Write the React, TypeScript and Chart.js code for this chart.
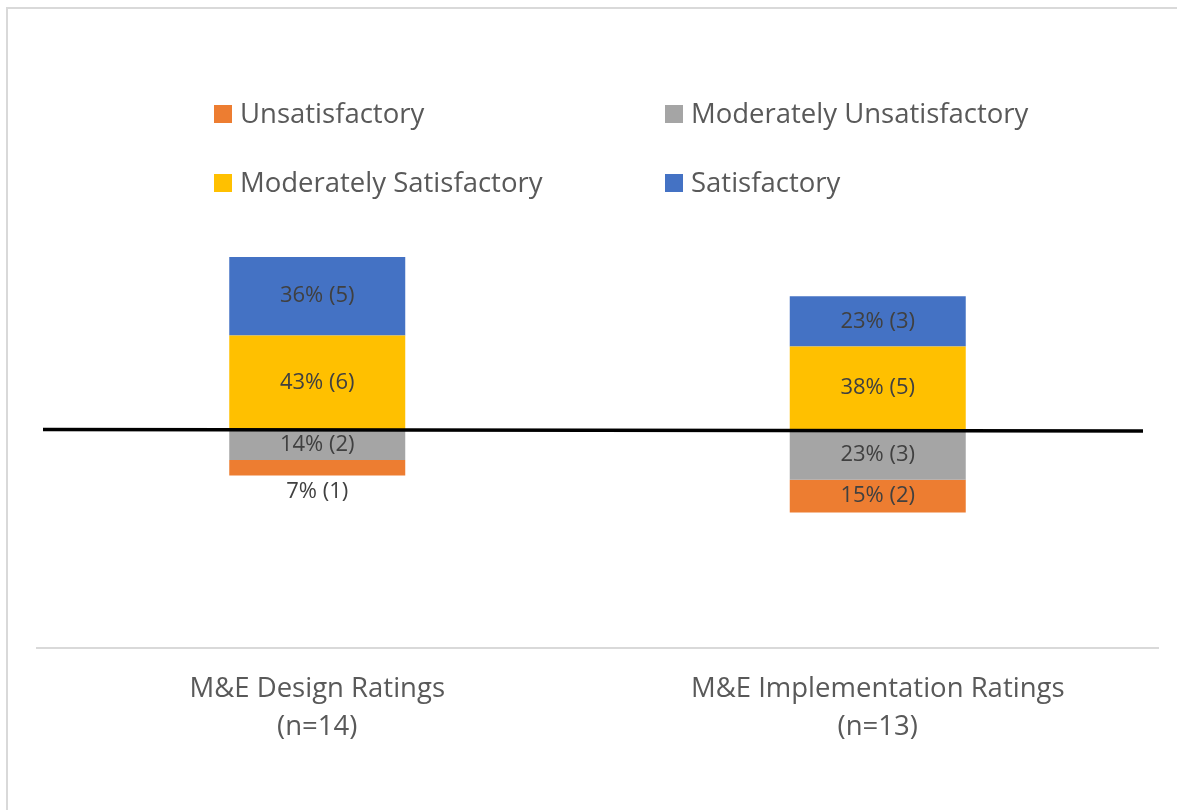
import React, { useEffect, useRef } from "react";
import { Chart, registerables } from "chart.js";

Chart.register(...registerables);

const categories: string[][] = [
  ["M&E Design Ratings", "(n=14)"],
  ["M&E Implementation Ratings", "(n=13)"],
];

// percent values (negative = below the line)
const unsatisfactory = [-7, -15];
const moderatelyUnsatisfactory = [-14, -23];
const moderatelySatisfactory = [43, 38];
const satisfactory = [36, 23];

// counts
const unsatisfactoryN = [1, 2];
const moderatelyUnsatisfactoryN = [2, 3];
const moderatelySatisfactoryN = [6, 5];
const satisfactoryN = [5, 3];

const legendOrder = ["Unsatisfactory", "Moderately Unsatisfactory", "Moderately Satisfactory", "Satisfactory"];

const FONT = "'Open Sans', 'DejaVu Sans', sans-serif";

const zeroLinePlugin = {
  id: "zeroLine",
  afterDatasetsDraw(chart: any) {
    const { ctx, chartArea, scales } = chart;
    const y0 = scales.y.getPixelForValue(0);
    ctx.save();
    ctx.strokeStyle = "#000000";
    ctx.lineWidth = 3.5;
    ctx.beginPath();
    ctx.moveTo(chartArea.left + 6, y0);
    ctx.lineTo(chartArea.right - 15, y0 + 1.5);
    ctx.stroke();
    ctx.restore();
  },
};

const valueLabelPlugin = {
  id: "valueLabels",
  afterDatasetsDraw(chart: any) {
    const { ctx } = chart;
    ctx.save();
    ctx.font = `22px ${FONT}`;
    ctx.fillStyle = "#404040";
    ctx.textAlign = "center";
    ctx.textBaseline = "middle";
    chart.data.datasets.forEach((ds: any, di: number) => {
      const meta = chart.getDatasetMeta(di);
      meta.data.forEach((el: any, i: number) => {
        const v = ds.data[i];
        const n = ds.counts[i];
        const text = `${Math.abs(v)}% (${n})`;
        const top = Math.min(el.y, el.base);
        const bottom = Math.max(el.y, el.base);
        const h = bottom - top;
        let cy = (top + bottom) / 2;
        if (h < 20) cy = v < 0 ? bottom + 16 : top - 16;
        ctx.fillText(text, el.x, cy);
      });
    });
    ctx.restore();
  },
};

const legendPlugin = {
  id: "gridLegend",
  afterDraw(chart: any) {
    const { ctx } = chart;
    const colX = [214, 665];
    const rowY = [115, 184];
    ctx.save();
    ctx.font = `27.5px ${FONT}`;
    ctx.textBaseline = "middle";
    ctx.textAlign = "left";
    legendOrder.forEach((name, k) => {
      const ds = chart.data.datasets.find((d: any) => d.label === name);
      const x = colX[k % 2];
      const y = rowY[Math.floor(k / 2)];
      ctx.fillStyle = ds.backgroundColor;
      ctx.fillRect(x, y - 10, 18, 18);
      ctx.fillStyle = "#595959";
      ctx.fillText(name, x + 26, y);
    });
    ctx.restore();
  },
};

export default function App() {
  const ref = useRef<HTMLCanvasElement | null>(null);
  useEffect(() => {
    if (!ref.current) return;
    const chart = new Chart(ref.current, {
      type: "bar",
      data: {
        labels: categories as any,
        datasets: [
          { label: "Moderately Unsatisfactory", data: moderatelyUnsatisfactory, counts: moderatelyUnsatisfactoryN, backgroundColor: "#A5A5A5" } as any,
          { label: "Unsatisfactory", data: unsatisfactory, counts: unsatisfactoryN, backgroundColor: "#ED7D31" } as any,
          { label: "Moderately Satisfactory", data: moderatelySatisfactory, counts: moderatelySatisfactoryN, backgroundColor: "#FFC000" } as any,
          { label: "Satisfactory", data: satisfactory, counts: satisfactoryN, backgroundColor: "#4472C4" } as any,
        ],
      },
      options: {
        responsive: false,
        animation: false,
        devicePixelRatio: 1,
        layout: { padding: { left: 37, right: 19, top: 211, bottom: 62 } },
        plugins: { legend: { display: false }, tooltip: { enabled: false } },
        datasets: { bar: { categoryPercentage: 1, barPercentage: 0.314 } },
        scales: {
          x: {
            stacked: true,
            grid: { display: false, drawTicks: false },
            border: { display: true, color: "#d9d9d9", width: 2 },
            ticks: {
              color: "#595959",
              font: { family: FONT, size: 27.5, lineHeight: 1.38 },
              padding: 22,
              maxRotation: 0,
            },
            afterFit: (scale: any) => {
              scale.height = 100;
            },
          },
          y: {
            stacked: true,
            display: false,
            min: -100,
            max: 100,
          },
        },
      },
      plugins: [zeroLinePlugin, valueLabelPlugin, legendPlugin],
    });
    return () => chart.destroy();
  }, []);
  return (
    <div style={{ position: "fixed", left: 0, top: 0, width: 1177, height: 810, background: "#ffffff", overflow: "hidden" }}>
      <div
        style={{
          position: "absolute",
          left: 6,
          top: 7,
          width: 1200,
          height: 900,
          borderLeft: "2px solid #d9d9d9",
          borderTop: "2px solid #d9d9d9",
        }}
      />
      <canvas ref={ref} width={1177} height={810} style={{ position: "absolute", left: 0, top: 0 }} />
    </div>
  );
}
